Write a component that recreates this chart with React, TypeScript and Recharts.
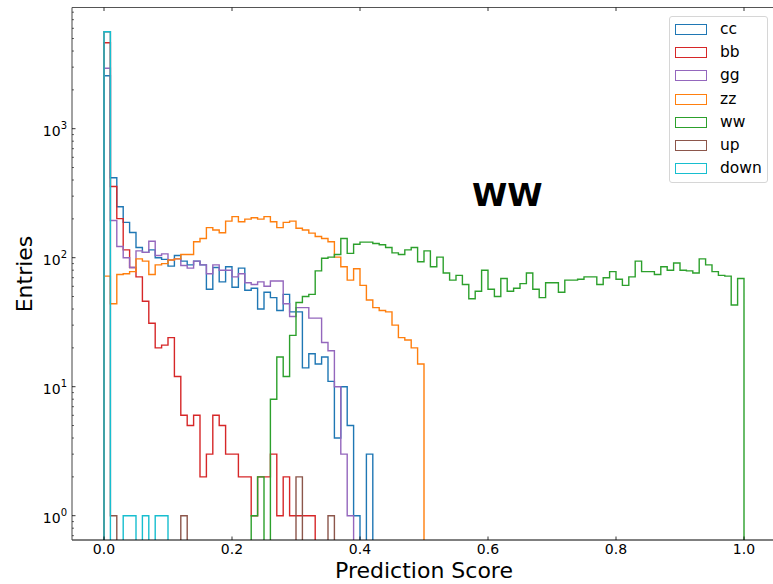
import React from "react";
import { LineChart, Line, XAxis, YAxis, ReferenceLine } from "recharts";

// 100 bins of width 0.01 on [0, 1]
const NBINS = 100;
const binLeft = Array.from({ length: NBINS }, (_, i) => i / NBINS);

// entries per bin (0 = empty bin)
const cc = [
  2575, 417, 248, 188, 157, 120, 110, 115, 100, 97,
  86, 104, 94, 88, 94, 88, 57, 84, 65, 85,
  59, 83, 56, 58, 40, 54, 49, 39, 52, 38,
  38, 14, 18, 15, 17, 11, 4, 10, 5, 1,
  0, 3, 0, 0, 0, 0, 0, 0, 0, 0,
  0, 0, 0, 0, 0, 0, 0, 0, 0, 0,
  0, 0, 0, 0, 0, 0, 0, 0, 0, 0,
  0, 0, 0, 0, 0, 0, 0, 0, 0, 0,
  0, 0, 0, 0, 0, 0, 0, 0, 0, 0,
  0, 0, 0, 0, 0, 0, 0, 0, 0, 0,
];
const bb = [
  4640, 356, 201, 115, 84, 71, 46, 31, 20, 21,
  24, 12, 6, 5, 6, 2, 3, 6, 5, 3,
  3, 2, 2, 1, 2, 2, 3, 1, 2, 1,
  1, 1, 1, 0, 0, 0, 0, 0, 0, 0,
  0, 0, 0, 0, 0, 0, 0, 0, 0, 0,
  0, 0, 0, 0, 0, 0, 0, 0, 0, 0,
  0, 0, 0, 0, 0, 0, 0, 0, 0, 0,
  0, 0, 0, 0, 0, 0, 0, 0, 0, 0,
  0, 0, 0, 0, 0, 0, 0, 0, 0, 0,
  0, 0, 0, 0, 0, 0, 0, 0, 0, 0,
];
const gg = [
  2940, 194, 122, 100, 84, 113, 110, 134, 104, 107,
  96, 98, 87, 83, 94, 88, 75, 88, 80, 80,
  71, 75, 64, 62, 65, 60, 66, 66, 44, 35,
  41, 41, 34, 34, 22, 19, 10, 3, 1, 0,
  0, 0, 0, 0, 0, 0, 0, 0, 0, 0,
  0, 0, 0, 0, 0, 0, 0, 0, 0, 0,
  0, 0, 0, 0, 0, 0, 0, 0, 0, 0,
  0, 0, 0, 0, 0, 0, 0, 0, 0, 0,
  0, 0, 0, 0, 0, 0, 0, 0, 0, 0,
  0, 0, 0, 0, 0, 0, 0, 0, 0, 0,
];
const zz = [
  72, 44, 74, 75, 78, 98, 94, 74, 88, 90,
  96, 98, 106, 106, 133, 141, 171, 164, 156, 192,
  208, 190, 199, 204, 199, 208, 190, 171, 188, 192,
  169, 164, 155, 146, 141, 133, 101, 85, 67, 82,
  61, 47, 41, 39, 38, 30, 24, 23, 20, 15,
  0, 0, 0, 0, 0, 0, 0, 0, 0, 0,
  0, 0, 0, 0, 0, 0, 0, 0, 0, 0,
  0, 0, 0, 0, 0, 0, 0, 0, 0, 0,
  0, 0, 0, 0, 0, 0, 0, 0, 0, 0,
  0, 0, 0, 0, 0, 0, 0, 0, 0, 0,
];
const ww = [
  0, 0, 0, 0, 0, 0, 0, 0, 0, 0,
  0, 0, 0, 0, 0, 0, 0, 0, 0, 0,
  0, 0, 0, 1, 2, 0, 8, 17, 12, 25,
  45, 50, 52, 79, 99, 101, 106, 141, 108, 127,
  132, 132, 129, 126, 120, 109, 106, 115, 120, 93,
  113, 85, 101, 76, 67, 73, 62, 48, 55, 80,
  57, 50, 69, 55, 58, 63, 76, 57, 49, 64,
  64, 54, 67, 67, 68, 71, 71, 62, 70, 78,
  68, 61, 71, 94, 78, 78, 74, 85, 80, 91,
  80, 79, 76, 98, 88, 78, 73, 72, 43, 69,
];
const up = [
  5640, 1, 0, 0, 0, 0, 0, 0, 0, 0,
  0, 0, 1, 0, 0, 0, 0, 0, 0, 0,
  0, 0, 0, 0, 0, 0, 0, 0, 0, 0,
  2, 0, 0, 0, 0, 1, 0, 0, 0, 0,
  0, 0, 0, 0, 0, 0, 0, 0, 0, 0,
  0, 0, 0, 0, 0, 0, 0, 0, 0, 0,
  0, 0, 0, 0, 0, 0, 0, 0, 0, 0,
  0, 0, 0, 0, 0, 0, 0, 0, 0, 0,
  0, 0, 0, 0, 0, 0, 0, 0, 0, 0,
  0, 0, 0, 0, 0, 0, 0, 0, 0, 0,
];
const down = [
  5650, 0, 0, 1, 1, 0, 1, 0, 1, 1,
  0, 0, 0, 0, 0, 0, 0, 0, 0, 0,
  0, 0, 0, 0, 0, 0, 0, 0, 0, 0,
  0, 0, 0, 0, 0, 0, 0, 0, 0, 0,
  0, 0, 0, 0, 0, 0, 0, 0, 0, 0,
  0, 0, 0, 0, 0, 0, 0, 0, 0, 0,
  0, 0, 0, 0, 0, 0, 0, 0, 0, 0,
  0, 0, 0, 0, 0, 0, 0, 0, 0, 0,
  0, 0, 0, 0, 0, 0, 0, 0, 0, 0,
  0, 0, 0, 0, 0, 0, 0, 0, 0, 0,
];

const series = [
  { key: "cc", values: cc, color: "#1f77b4" },
  { key: "bb", values: bb, color: "#d62728" },
  { key: "gg", values: gg, color: "#9467bd" },
  { key: "zz", values: zz, color: "#ff7f0e" },
  { key: "ww", values: ww, color: "#2ca02c" },
  { key: "up", values: up, color: "#8c564b" },
  { key: "down", values: down, color: "#17becf" },
];

const xTicks = [0, 0.2, 0.4, 0.6, 0.8, 1.0];
const yTicks = [
  0.7, 0.8, 0.9,
  1, 2, 3, 4, 5, 6, 7, 8, 9,
  10, 20, 30, 40, 50, 60, 70, 80, 90,
  100, 200, 300, 400, 500, 600, 700, 800, 900,
  1000, 2000, 3000, 4000, 5000, 6000, 7000, 8000,
];

// empty bins fall far below the visible log range (like matplotlib's clip)
const EMPTY = 0.01;
const Y_MIN = 0.648;
const Y_MAX = 8700;

// step outline: rise at x=0, one point per bin left edge, drop at x=1
const rows: Record<string, number>[] = [];
const first: Record<string, number> = { x: 0 };
series.forEach((s) => (first[s.key] = EMPTY));
rows.push(first);
binLeft.forEach((x, i) => {
  const r: Record<string, number> = { x };
  series.forEach((s) => (r[s.key] = s.values[i] > 0 ? s.values[i] : EMPTY));
  rows.push(r);
});
const last: Record<string, number> = { x: 1 };
series.forEach((s) => (last[s.key] = EMPTY));
rows.push(last);

const FONT = "'DejaVu Sans', sans-serif";
const PLOT = { left: 72, top: 7.5, bottom: 540 };

function XTick(props: any) {
  const { x, payload } = props;
  return (
    <g>
      <line x1={x} x2={x} y1={PLOT.bottom} y2={PLOT.bottom - 3.5} stroke="#000" strokeWidth={0.8} />
      <line x1={x} x2={x} y1={PLOT.top} y2={PLOT.top + 3.5} stroke="#000" strokeWidth={0.8} />
      <text x={x} y={554} textAnchor="middle" fontSize={14} fontFamily={FONT} fill="#000">
        {Number(payload.value).toFixed(1)}
      </text>
    </g>
  );
}

function YTick(props: any) {
  const { y, payload } = props;
  const lg = Math.log10(payload.value);
  const exp = Math.round(lg);
  const major = Math.abs(lg - exp) < 1e-6;
  return (
    <g>
      <line
        x1={PLOT.left}
        x2={PLOT.left + (major ? 3.5 : 2)}
        y1={y}
        y2={y}
        stroke="#000"
        strokeWidth={major ? 0.8 : 0.6}
      />
      {major && (
        <text x={67} y={y + 7} textAnchor="end" fontSize={14} fontFamily={FONT} fill="#000">
          10
          <tspan dy={-7} fontSize={10}>
            {exp}
          </tspan>
        </text>
      )}
    </g>
  );
}

function Legend() {
  return (
    <div
      style={{
        position: "absolute",
        left: 669,
        top: 16,
        width: 99,
        height: 167,
        boxSizing: "border-box",
        border: "1px solid #d6d6d6",
        borderRadius: 3,
        background: "rgba(255,255,255,0.8)",
        fontFamily: FONT,
        fontSize: 15.5,
        color: "#000",
      }}
    >
      {series.map((s, i) => (
        <div
          key={s.key}
          style={{
            position: "absolute",
            left: 0,
            top: 1 + i * 23.2,
            height: 23,
            display: "flex",
            alignItems: "center",
          }}
        >
          <div
            style={{
              marginLeft: 5,
              width: 32,
              height: 11,
              boxSizing: "border-box",
              border: `1.3px solid ${s.color}`,
            }}
          />
          <span style={{ marginLeft: 13, lineHeight: "23px" }}>{s.key}</span>
        </div>
      ))}
    </div>
  );
}

export default function App() {
  return (
    <div
      style={{
        position: "fixed",
        left: 0,
        top: 0,
        width: 773,
        height: 584,
        overflow: "hidden",
        background: "#fff",
      }}
    >
      <LineChart
        width={780}
        height={584}
        data={rows}
        margin={{ top: 7.5, right: 4, bottom: 0, left: 0 }}
      >
        <XAxis
          dataKey="x"
          type="number"
          domain={[-0.05, 1.05]}
          allowDataOverflow
          ticks={xTicks}
          interval={0}
          height={44}
          tickLine={false}
          tickSize={0}
          axisLine={{ stroke: "#000", strokeWidth: 1 }}
          tick={<XTick />}
        />
        <YAxis
          type="number"
          scale="log"
          domain={[Y_MIN, Y_MAX]}
          allowDataOverflow
          ticks={yTicks}
          interval={0}
          width={72}
          tickLine={false}
          tickSize={0}
          axisLine={{ stroke: "#444", strokeWidth: 1 }}
          tick={<YTick />}
        />
        <ReferenceLine y={Y_MAX} stroke="#555" strokeWidth={1} ifOverflow="visible" />
        {series.map((s) => (
          <Line
            key={s.key}
            dataKey={s.key}
            type="stepAfter"
            stroke={s.color}
            strokeWidth={1.4}
            dot={false}
            activeDot={false}
            isAnimationActive={false}
          />
        ))}
      </LineChart>

      <Legend />

      <div
        style={{
          position: "absolute",
          left: 472,
          top: 176,
          fontFamily: FONT,
          fontWeight: "bold",
          fontSize: 32,
          lineHeight: "38px",
          color: "#000",
        }}
      >
        WW
      </div>

      <div
        style={{
          position: "absolute",
          left: 0,
          width: 848,
          top: 558,
          textAlign: "center",
          fontFamily: FONT,
          fontSize: 22,
          lineHeight: "26px",
          color: "#000",
        }}
      >
        Prediction Score
      </div>

      <div
        style={{
          position: "absolute",
          left: 25,
          top: 274,
          transform: "translate(-50%, -50%) rotate(-90deg)",
          fontFamily: FONT,
          fontSize: 22,
          lineHeight: "26px",
          whiteSpace: "nowrap",
          color: "#000",
        }}
      >
        Entries
      </div>
    </div>
  );
}
